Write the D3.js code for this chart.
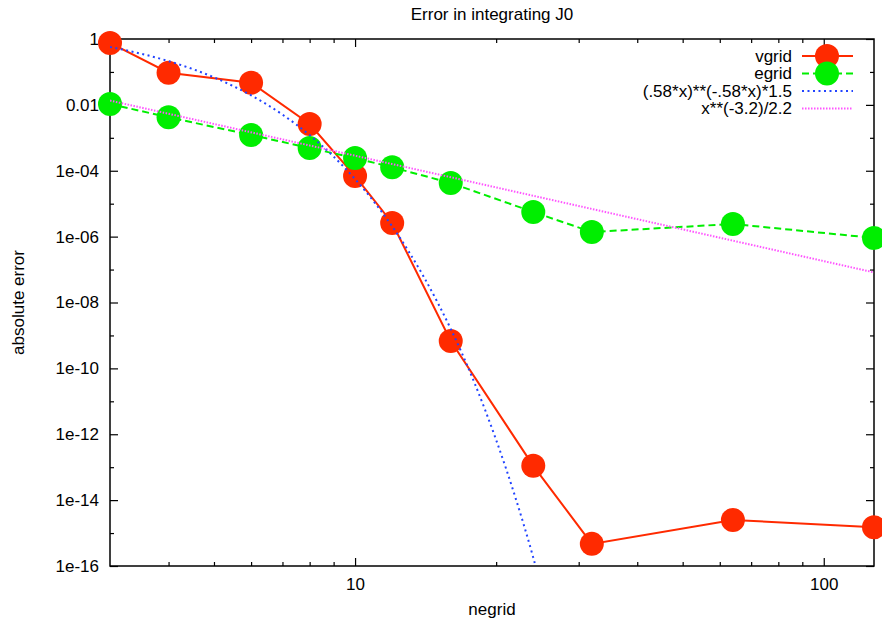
<!DOCTYPE html>
<meta charset="utf-8">
<style>
body { margin: 0; background: #fff; }
text { font-family: "Liberation Sans", Arial, sans-serif; fill: #000; }
</style>
<svg width="882" height="627"></svg>
<script src="https://d3js.org/d3.v7.min.js"></script>
<script>
// measured errors vs negrid
var negrid = [3, 4, 6, 8, 10, 12, 16, 24, 32, 64, 128];
var vgrid = [0.757, 0.095, 0.047, 2.63e-3, 6.9e-5, 2.6e-6, 6.8e-10, 1.1e-13, 4.7e-16, 2.5e-15, 1.5e-15];
var egrid = [0.0106, 4.2e-3, 1.22e-3, 4.9e-4, 2.44e-4, 1.27e-4, 4.25e-5, 5.6e-6, 1.38e-6, 2.42e-6, 9.1e-7];

// fitted curves
var fitX = [3, 3.5, 4, 5, 6, 7, 8, 9, 10, 11, 12, 13, 14, 15, 16, 17, 18, 19, 20, 21, 22, 23, 24, 25];
var fitExp = [0.572, 0.356, 0.213, 0.0684, 0.0195, 5.07e-3, 1.21e-3, 2.69e-4, 5.6e-5, 1.1e-5, 2.05e-6, 3.63e-7,
              6.2e-8, 1.0e-8, 1.58e-9, 2.4e-10, 3.5e-11, 4.9e-12, 6.7e-13, 9.0e-14, 1.16e-14, 1.47e-15, 1.8e-16, 2.0e-17];
var powX = [3, 128];
var powY = [0.0135, 8.2e-8];

var yTicks = [1, 1e-2, 1e-4, 1e-6, 1e-8, 1e-10, 1e-12, 1e-14, 1e-16];
var yTickLabels = ["1", "0.01", "1e-04", "1e-06", "1e-08", "1e-10", "1e-12", "1e-14", "1e-16"];
var yMinor = [1e-1, 1e-3, 1e-5, 1e-7, 1e-9, 1e-11, 1e-13, 1e-15];
var xTicks = [10, 100];
var xMinor = [4, 5, 6, 7, 8, 9, 20, 30, 40, 50, 60, 70, 80, 90];

var svg = d3.select("svg"),
    margin = {top: 39, right: 8, bottom: 61, left: 110},
    width = +svg.attr("width") - margin.left - margin.right,
    height = +svg.attr("height") - margin.top - margin.bottom;

var x = d3.scaleLog().domain([3, 128]).range([0, width]);
var y = d3.scaleLog().domain([1e-16, 1]).range([height, 0]);

var g = svg.append("g").attr("transform", "translate(" + margin.left + "," + margin.top + ")");

svg.append("defs").append("clipPath").attr("id", "clip")
  .append("rect").attr("width", width).attr("height", height);

// ticks, pointing inward on all four sides
function tickSet(axisFn, vals, size, fmt) {
  return axisFn.tickValues(vals).tickSizeInner(size).tickSizeOuter(0).tickFormat(fmt || "");
}
var xAxisG = g.append("g").attr("transform", "translate(0," + height + ")")
  .call(tickSet(d3.axisBottom(x), xTicks, -8, d3.format("d")));
g.append("g").attr("transform", "translate(0," + height + ")")
  .call(tickSet(d3.axisBottom(x), xMinor, -4));
g.append("g").call(tickSet(d3.axisTop(x), xTicks, -8));
g.append("g").call(tickSet(d3.axisTop(x), xMinor, -4));
var yAxisG = g.append("g").call(tickSet(d3.axisLeft(y), yTicks, -8, function(d, i) { return yTickLabels[i]; }));
g.append("g").call(tickSet(d3.axisLeft(y), yMinor, -4));
g.append("g").attr("transform", "translate(" + width + ",0)").call(tickSet(d3.axisRight(y), yTicks, -8));
g.append("g").attr("transform", "translate(" + width + ",0)").call(tickSet(d3.axisRight(y), yMinor, -4));

g.selectAll(".domain").remove();
g.selectAll(".tick line").attr("stroke", "#000").attr("stroke-width", 1.2);
g.selectAll(".tick text").attr("font-size", 17).attr("font-family", "Liberation Sans, Arial, sans-serif");
xAxisG.selectAll(".tick text").attr("dy", "1.25em");
yAxisG.selectAll(".tick text").attr("x", -11);

g.append("rect").attr("width", width).attr("height", height)
  .attr("fill", "none").attr("stroke", "#000").attr("stroke-width", 1.5);

var line = d3.line().x(function(d) { return x(d[0]); }).y(function(d) { return y(d[1]); });
var smooth = d3.line().curve(d3.curveMonotoneX).x(function(d) { return x(d[0]); }).y(function(d) { return y(d[1]); });

var series = [
  {name: "vgrid", color: "#ff2a00", dash: null, data: d3.zip(negrid, vgrid), marks: true},
  {name: "egrid", color: "#00ee00", dash: "7,4", data: d3.zip(negrid, egrid), marks: true},
  {name: "(.58*x)**(-.58*x)*1.5", color: "#2244ff", dash: "2,3.5", data: d3.zip(fitX, fitExp), marks: false},
  {name: "x**(-3.2)/2.2", color: "#ff55ff", dash: "1.5,1.5", data: d3.zip(powX, powY), marks: false}
];

series.forEach(function(s) {
  g.append("path")
    .attr("clip-path", "url(#clip)")
    .attr("d", (s.marks ? line : smooth)(s.data))
    .attr("fill", "none")
    .attr("stroke", s.color)
    .attr("stroke-width", 2)
    .attr("stroke-dasharray", s.dash);
  if (s.marks) {
    g.selectAll(null).data(s.data).enter().append("circle")
      .attr("cx", function(d) { return x(d[0]); })
      .attr("cy", function(d) { return y(d[1]); })
      .attr("r", 12)
      .attr("fill", s.color);
  }
});

// legend
var leg = g.append("g").attr("transform", "translate(" + (width - 72) + ",17)");
series.forEach(function(s, i) {
  var row = leg.append("g").attr("transform", "translate(0," + (i * 17.5) + ")");
  row.append("text").attr("x", -10).attr("y", 0).attr("dy", "0.35em")
    .attr("text-anchor", "end").attr("font-size", 17).text(s.name);
  row.append("line").attr("x1", 0).attr("x2", 51)
    .attr("stroke", s.color).attr("stroke-width", 2).attr("stroke-dasharray", s.dash);
  if (s.marks) row.append("circle").attr("cx", 25).attr("r", 12).attr("fill", s.color);
});

// titles
svg.append("text").attr("x", margin.left + width / 2).attr("y", 20)
  .attr("text-anchor", "middle").attr("font-size", 17).text("Error in integrating J0");
svg.append("text").attr("x", margin.left + width / 2).attr("y", 615)
  .attr("text-anchor", "middle").attr("font-size", 17).text("negrid");
svg.append("text").attr("transform", "translate(24," + (margin.top + height / 2) + ") rotate(-90)")
  .attr("text-anchor", "middle").attr("font-size", 17).text("absolute error");
</script>
